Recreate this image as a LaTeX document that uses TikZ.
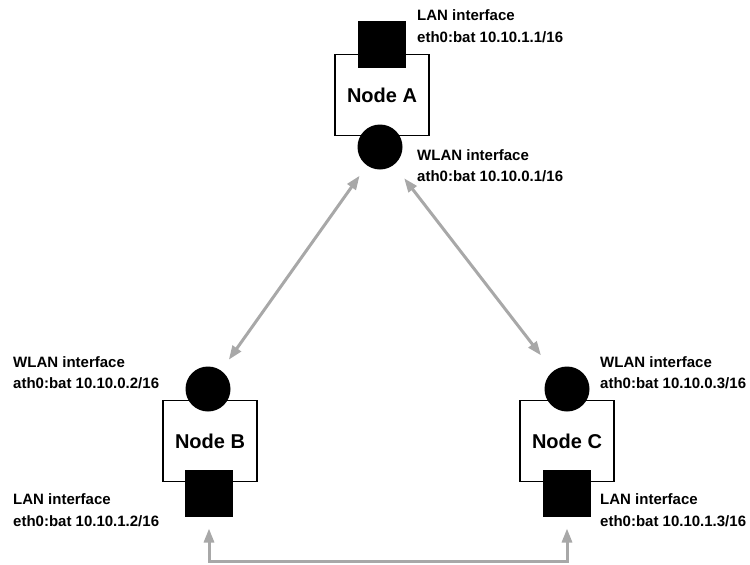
\documentclass[tikz,border=0pt]{standalone}
\usepackage{fontspec}
\setmainfont{Liberation Sans}
\usetikzlibrary{arrows.meta}
\definecolor{linkgray}{RGB}{168,168,168}
\tikzset{
  hostbox/.style={draw=black, line width=1.5pt, fill=white, minimum width=94pt, minimum height=81pt, inner sep=0pt, outer sep=0pt, font=\bfseries\fontsize{20}{24}\selectfont},
  wlanif/.style={circle, fill=black, minimum size=45pt, inner sep=0pt, outer sep=0pt},
  lanif/.style={rectangle, fill=black, minimum width=48pt, minimum height=47pt, inner sep=0pt, outer sep=0pt},
  iflabel/.style={anchor=base west, inner sep=0pt, font=\bfseries\fontsize{15}{18}\selectfont},
  link/.style={draw=linkgray, line width=3pt, {Triangle[length=14pt,width=10pt]}-{Triangle[length=14pt,width=10pt]}}
}
\begin{document}
\begin{tikzpicture}[x=1pt,y=-1pt]
\useasboundingbox (0,0) rectangle (750,565);
% Node A
\node[hostbox] (A) at (382,95) {Node A};
\node[lanif] (sA) at (382,44) {};
\node[wlanif] (cA) at (380,147) {};
% Node B
\node[hostbox] (B) at (210,441) {Node B};
\node[wlanif] (cB) at (208,389) {};
\node[lanif] (sB) at (209,493) {};
% Node C
\node[hostbox] (C) at (567,441) {Node C};
\node[wlanif] (cC) at (567,389) {};
\node[lanif] (sC) at (567,493) {};
% labels A
\node[iflabel] (lA1) at (417,20) {LAN interface};
\node[iflabel] (lA2) at (417,42.5) {eth0:bat 10.10.1.1/16};
\node[iflabel] (wA1) at (417,160) {WLAN interface};
\node[iflabel] (wA2) at (417,181.5) {ath0:bat 10.10.0.1/16};
% labels B
\node[iflabel] (wB1) at (13,367) {WLAN interface};
\node[iflabel] (wB2) at (13,388.5) {ath0:bat 10.10.0.2/16};
\node[iflabel] (lB1) at (13,504) {LAN interface};
\node[iflabel] (lB2) at (13,526) {eth0:bat 10.10.1.2/16};
% labels C
\node[iflabel] (wC1) at (600,367) {WLAN interface};
\node[iflabel] (wC2) at (600,388.5) {ath0:bat 10.10.0.3/16};
\node[iflabel] (lC1) at (600,504) {LAN interface};
\node[iflabel] (lC2) at (600,526) {eth0:bat 10.10.1.3/16};
% links
\draw[link, shorten <=12.7pt, shorten >=13.4pt] (cA) -- (cB);
\draw[link, shorten <=17pt, shorten >=20pt] (cA) -- (cC);
\draw[link, shorten <=12pt, shorten >=12pt] (sB.south) -- ++(0,45) -| (sC.south);
\end{tikzpicture}
\end{document}
